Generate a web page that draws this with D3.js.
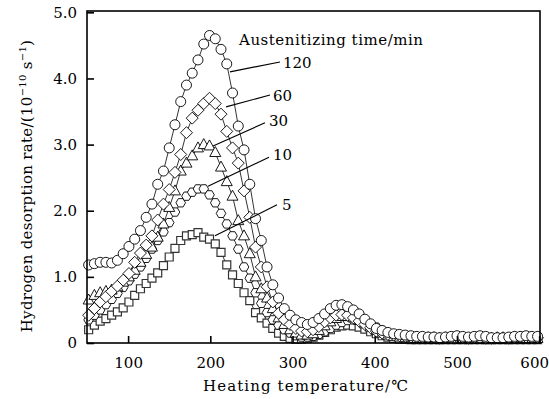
<!DOCTYPE html>
<html>
<head>
<meta charset="utf-8">
<script src="https://cdn.jsdelivr.net/npm/d3@7"></script>
<style>
  body { margin: 0; background: #fff; }
  svg text { font-family: "DejaVu Serif", "Liberation Serif", serif; fill: #000; }
</style>
</head>
<body>
<div id="chart"></div>
<script>
// heating temperature of each sample (°C), shared by all curves
const temps = [52,59,66,73,80,87,94,101,108,115,122,129,136,143,150,157,164,171,178,185,
  192,199,206,213,220,227,234,241,248,255,262,269,276,283,290,297,304,311,318,325,
  332,339,346,353,360,367,374,381,388,395,402,409,416,423,430,437,444,451,458,465,
  472,479,486,493,500,507,514,521,528,535,542,549,556,563,570,577,584,591,598];

// hydrogen desorption rate, 10^-10 s^-1, one array per austenitizing time
const rate5 = [0.20,0.27,0.33,0.37,0.42,0.47,0.53,0.62,0.72,0.82,0.90,0.98,1.06,1.17,1.30,1.43,1.55,1.62,1.64,1.67,
  1.60,1.57,1.50,1.37,1.18,1.03,0.90,0.76,0.64,0.46,0.38,0.30,0.22,0.15,0.10,0.07,0.06,0.06,0.07,0.09,
  0.12,0.16,0.20,0.24,0.26,0.27,0.26,0.24,0.21,0.17,0.14,0.11,0.09,0.07,0.06,0.06,0.05,0.05,0.05,0.05,
  0.05,0.05,0.05,0.05,0.05,0.05,0.05,0.05,0.05,0.05,0.05,0.05,0.05,0.05,0.05,0.05,0.05,0.05,0.05];
const rate10 = [0.35,0.42,0.50,0.58,0.66,0.75,0.84,0.94,1.04,1.15,1.28,1.42,1.55,1.68,1.82,1.98,2.12,2.22,2.28,2.33,
  2.33,2.24,2.12,1.96,1.80,1.62,1.42,1.15,0.98,0.76,0.60,0.46,0.35,0.27,0.20,0.15,0.11,0.09,0.09,0.10,
  0.13,0.17,0.22,0.27,0.31,0.34,0.35,0.34,0.32,0.28,0.24,0.19,0.15,0.12,0.10,0.09,0.08,0.07,0.07,0.06,
  0.06,0.06,0.06,0.07,0.06,0.06,0.06,0.06,0.07,0.06,0.06,0.06,0.06,0.06,0.07,0.07,0.06,0.06,0.06];
const rate30 = [0.65,0.72,0.76,0.78,0.80,0.85,0.92,1.00,1.10,1.22,1.34,1.45,1.60,1.80,2.05,2.30,2.60,2.72,2.83,2.95,
  3.00,2.98,2.88,2.66,2.44,2.22,1.85,1.62,1.35,1.00,0.82,0.68,0.52,0.38,0.28,0.20,0.15,0.12,0.12,0.14,
  0.19,0.26,0.32,0.37,0.40,0.40,0.38,0.34,0.29,0.24,0.19,0.15,0.12,0.10,0.09,0.08,0.08,0.07,0.07,0.07,
  0.06,0.06,0.07,0.07,0.06,0.07,0.07,0.06,0.06,0.07,0.07,0.06,0.06,0.07,0.07,0.08,0.07,0.07,0.07];
const rate60 = [0.42,0.52,0.62,0.70,0.78,0.86,0.95,1.05,1.22,1.36,1.48,1.62,1.86,2.10,2.32,2.58,2.85,3.18,3.40,3.52,
  3.62,3.70,3.62,3.46,3.20,2.95,2.72,2.30,1.90,1.45,1.15,0.85,0.62,0.45,0.35,0.28,0.22,0.18,0.17,0.20,
  0.25,0.32,0.38,0.42,0.43,0.42,0.38,0.33,0.28,0.23,0.18,0.15,0.13,0.12,0.11,0.10,0.09,0.09,0.08,0.08,
  0.08,0.07,0.08,0.08,0.09,0.08,0.07,0.08,0.08,0.07,0.07,0.08,0.08,0.07,0.08,0.09,0.09,0.08,0.08];
const rate120 = [1.18,1.20,1.22,1.22,1.21,1.25,1.35,1.46,1.57,1.70,1.90,2.10,2.40,2.60,2.95,3.30,3.65,3.90,4.08,4.28,
  4.52,4.65,4.60,4.44,4.22,3.78,3.28,2.92,2.40,1.88,1.55,1.15,0.88,0.68,0.52,0.42,0.35,0.31,0.28,0.31,
  0.37,0.44,0.52,0.57,0.58,0.55,0.50,0.44,0.36,0.29,0.22,0.19,0.16,0.14,0.13,0.12,0.11,0.10,0.10,0.09,
  0.09,0.08,0.09,0.10,0.11,0.10,0.09,0.10,0.11,0.10,0.08,0.08,0.08,0.09,0.10,0.10,0.11,0.10,0.10];

const seriesNames = ["5", "10", "30", "60", "120"];
const seriesRates = [rate5, rate10, rate30, rate60, rate120];
const seriesMarkers = ["square", "hexagon", "triangle", "diamond", "circle"];

const xTicks = [100, 200, 300, 400, 500, 600];
const yTicks = [0, 1, 2, 3, 4, 5];
const yTickLabels = ["0", "1.0", "2.0", "3.0", "4.0", "5.0"];

// pointer lines from each curve to its label, in data units [T1, R1, T2, R2]
const pointerLines = [[205.7, 1.62, 281.1, 2.09], [197.2, 2.37, 271.4, 2.81], [203.3, 2.98, 266.5, 3.33],
  [219.1, 3.57, 272.6, 3.75], [223.9, 4.10, 284.7, 4.25]];
const labelAnchors = [[287.2, 2.01], [276.2, 2.77], [271.4, 3.28], [276.2, 3.66], [288.4, 4.16]];

const W = 549, H = 399;
const padL = 87, padR = 540, padT = 11, padB = 343;

const svg = d3.select("#chart").append("svg")
  .attr("width", W)
  .attr("height", H);

const x = d3.scaleLinear().domain([50, 601]).range([padL, padR]);
const y = d3.scaleLinear().domain([0, 5.02]).range([padB, padT]);

// marker shapes
const markerPath = {
  square: "M-4,-4H4V4H-4Z",
  diamond: "M0,-6L6,0L0,6L-6,0Z",
  triangle: "M0,-6L5.5,4L-5.5,4Z",
  hexagon: d3.range(6).map(i => {
    const a = Math.PI / 3 * i;
    return (i ? "L" : "M") + (4.8 * Math.cos(a)).toFixed(2) + "," + (4.8 * Math.sin(a)).toFixed(2);
  }).join("") + "Z"
};

const line = d3.line()
  .x(d => x(d[0]))
  .y(d => y(d[1]));

const plot = svg.append("g");

seriesRates.forEach((rates, s) => {
  const pts = temps.map((t, i) => [t, rates[i]]);
  const g = plot.append("g");

  g.append("path")
    .datum(pts)
    .attr("d", line)
    .attr("fill", "none")
    .attr("stroke", "#000")
    .attr("stroke-width", 0.8);

  const kind = seriesMarkers[s];
  if (kind === "circle") {
    g.selectAll("circle")
      .data(pts)
      .enter().append("circle")
      .attr("cx", d => x(d[0]))
      .attr("cy", d => y(d[1]))
      .attr("r", 5)
      .attr("fill", "#fff")
      .attr("stroke", "#000")
      .attr("stroke-width", 0.9);
  } else {
    g.selectAll("path.m")
      .data(pts)
      .enter().append("path")
      .attr("class", "m")
      .attr("d", markerPath[kind])
      .attr("transform", d => "translate(" + x(d[0]) + "," + y(d[1]) + ")")
      .attr("fill", "#fff")
      .attr("stroke", kind === "square" ? "#333" : "#000")
      .attr("stroke-width", kind === "square" ? 1.2 : 0.9);
  }
});

// axes, ticks pointing inside
const xAxis = svg.append("g")
  .attr("transform", "translate(0," + padB + ")")
  .call(d3.axisBottom(x).tickValues(xTicks).tickSizeInner(-7).tickSizeOuter(0).tickPadding(14));

const yAxis = svg.append("g")
  .attr("transform", "translate(" + padL + ",0)")
  .call(d3.axisLeft(y).tickValues(yTicks).tickSizeInner(-7).tickSizeOuter(0).tickPadding(10)
    .tickFormat((d, i) => yTickLabels[i]));

[xAxis, yAxis].forEach(a => {
  a.select(".domain").remove();
  a.selectAll(".tick line").attr("stroke", "#000").attr("stroke-width", 1.6);
  a.selectAll(".tick text").style("font-size", "15px").attr("fill", "#000");
});

// last x label sits against the page edge, nudge it left like the original
xAxis.selectAll(".tick text").filter(d => d === 600).attr("dx", -5);

svg.append("rect")
  .attr("x", padL)
  .attr("y", padT)
  .attr("width", padR - padL)
  .attr("height", padB - padT)
  .attr("fill", "none")
  .attr("stroke", "#000")
  .attr("stroke-width", 1.6);

// label pointers
const notes = svg.append("g");
pointerLines.forEach((p, i) => {
  notes.append("line")
    .attr("x1", x(p[0])).attr("y1", y(p[1]))
    .attr("x2", x(p[2])).attr("y2", y(p[3]))
    .attr("stroke", "#000")
    .attr("stroke-width", 1.1);
  notes.append("text")
    .attr("x", x(labelAnchors[i][0]))
    .attr("y", y(labelAnchors[i][1]))
    .style("font-size", "15px")
    .text(seriesNames[i]);
});

notes.append("text")
  .attr("x", x(234.9))
  .attr("y", y(4.51))
  .style("font-size", "15px")
  .attr("textLength", 184)
  .text("Austenitizing time/min");

// axis titles
svg.append("text")
  .attr("x", 203)
  .attr("y", 391)
  .style("font-size", "15px")
  .attr("textLength", 205)
  .text("Heating temperature/℃");

const yTitle = svg.append("text")
  .attr("transform", "translate(32,186) rotate(-90)")
  .attr("text-anchor", "middle")
  .style("font-size", "15px")
  .style("letter-spacing", "0.3px");
yTitle.append("tspan").text("Hydrogen desorption rate/(10");
yTitle.append("tspan").attr("dy", -6).style("font-size", "10px").text("−10");
yTitle.append("tspan").attr("dy", 6).text(" s");
yTitle.append("tspan").attr("dy", -6).style("font-size", "10px").text("−1");
yTitle.append("tspan").attr("dy", 6).text(")");
</script>
</body>
</html>
